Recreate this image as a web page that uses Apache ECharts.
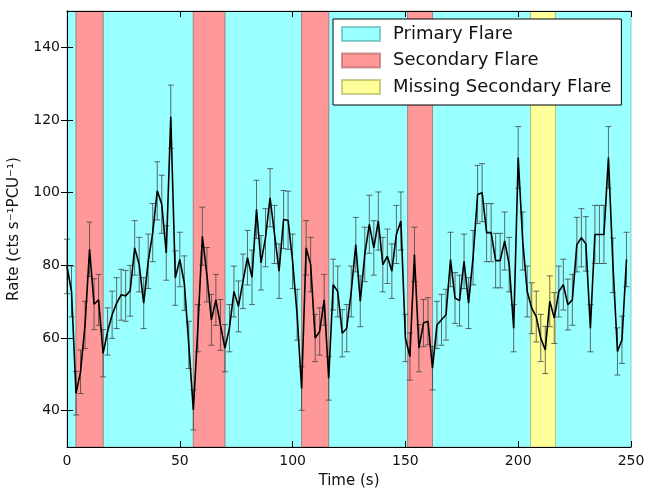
<!DOCTYPE html>
<html>
<head>
<meta charset="utf-8">
<script src="https://cdn.jsdelivr.net/npm/echarts@6/dist/echarts.min.js"></script>
<style>
  html, body { margin: 0; padding: 0; background: #fff; }
  #main { width: 646px; height: 489px; }
</style>
</head>
<body>
<div id="main"></div>
<script>
var times = [0, 2, 4, 6, 8, 10, 12, 14, 16, 18, 20, 22, 24, 26, 28, 30, 32, 34, 36, 38,
  40, 42, 44, 46, 48, 50, 52, 54, 56, 58, 60, 62, 64, 66, 68, 70, 72, 74, 76, 78,
  80, 82, 84, 86, 88, 90, 92, 94, 96, 98, 100, 102, 104, 106, 108, 110, 112, 114, 116, 118,
  120, 122, 124, 126, 128, 130, 132, 134, 136, 138, 140, 142, 144, 146, 148, 150, 152, 154, 156, 158,
  160, 162, 164, 166, 168, 170, 172, 174, 176, 178, 180, 182, 184, 186, 188, 190, 192, 194, 196, 198,
  200, 202, 204, 206, 208, 210, 212, 214, 216, 218, 220, 222, 224, 226, 228, 230, 232, 234, 236, 238,
  240, 242, 244, 246, 248];

var rates = [79.7, 72.8, 44.8, 50.7, 63.6, 84.4, 69.3, 70.5, 55.8, 61.8, 66.4, 69.6, 71.9, 71.6, 73.0, 84.8, 80.2, 69.6, 81.1, 89.0,
  100.5, 96.8, 83.4, 120.9, 76.5, 81.6, 75.1, 58.1, 40.2, 62.7, 88.0, 77.4, 65.0, 70.5, 63.6, 57.2, 62.7, 72.8, 68.7, 75.6,
  82.1, 76.7, 95.4, 80.7, 87.6, 98.6, 88.5, 78.4, 92.6, 92.4, 81.1, 66.4, 46.1, 84.8, 80.2, 60.0, 61.8, 70.5, 48.9, 74.7,
  72.8, 61.3, 62.7, 72.8, 85.7, 70.1, 83.0, 91.3, 84.8, 92.2, 80.2, 82.5, 78.4, 88.5, 92.2, 60.0, 54.9, 83.0, 57.2, 64.1,
  64.6, 51.7, 63.6, 65.0, 66.4, 81.6, 71.0, 70.3, 81.1, 69.6, 82.1, 99.5, 100.0, 89.0, 89.0, 81.3, 81.3, 86.7, 80.2, 62.7,
  109.7, 86.7, 72.8, 68.2, 65.9, 60.0, 56.7, 70.1, 65.5, 72.8, 74.7, 69.2, 70.5, 85.7, 87.6, 85.9, 62.7, 88.5, 88.5, 88.5,
  109.7, 80.0, 56.3, 59.5, 81.6];

var errors = [7.5, 7, 6, 6, 6.5, 7.5, 7, 7, 6.5, 6.5, 6.5, 7, 7, 7, 7, 7.5, 7.5, 7, 7.5, 8,
  8, 8, 7.5, 8.7, 7.5, 7.5, 7.5, 6.5, 5.5, 6.5, 8, 7.5, 7, 7, 7, 6.5, 6.5, 7, 7, 7.5,
  7.5, 7.5, 8, 7.5, 8, 8, 8, 7.5, 8, 8, 7.5, 7, 6, 7.5, 7.5, 6.5, 6.5, 7, 6, 7,
  7, 6.5, 6.5, 7, 7.5, 7, 7.5, 8, 7.5, 8, 7.5, 7.5, 7.5, 8, 8, 6.5, 6.5, 7.5, 6.5, 6.5,
  6.5, 6, 6.5, 7, 7, 7.5, 7, 7, 7.5, 7, 7.5, 8, 8, 8, 8, 7.5, 7.5, 8, 7.5, 6.5,
  8.5, 8, 7, 7, 7, 6.5, 6.5, 7, 7, 7, 7, 7, 7, 7.5, 8, 7.5, 6.5, 8, 8, 8,
  8.5, 7.5, 6.5, 6.5, 7.5];

// shaded intervals [start, end] in seconds
var primaryBands = [[0, 4], [16, 56], [70, 104], [116, 151], [162, 205.5], [216.5, 250]];
var secondaryBands = [[4, 16], [56, 70], [104, 116], [151, 162]];
var missingBands = [[205.5, 216.5]];

var yTicks = [40, 60, 80, 100, 120, 140];

var font = 'DejaVu Sans';

function bandSeries(name, bands, color, edge) {
  return {
    name: name,
    type: 'line',
    data: [],
    z: 1,
    itemStyle: { color: color, borderColor: edge, borderWidth: 1 },
    lineStyle: { color: color },
    markArea: {
      silent: true,
      itemStyle: { color: color, borderColor: edge, borderWidth: 1 },
      data: bands.map(function (b) { return [{ xAxis: b[0] }, { xAxis: b[1] }]; })
    }
  };
}

var lineData = times.map(function (t, i) { return [t, rates[i]]; });
var errData = times.map(function (t, i) { return [t, rates[i], errors[i]]; });

var chart = echarts.init(document.getElementById('main'));

var axisCommon = {
  axisLine: { show: true, lineStyle: { color: '#000', width: 1 } },
  axisTick: { show: true, inside: true, length: 6, lineStyle: { color: '#000' } },
  splitLine: { show: false },
  z: 10
};

var option = {
  animation: false,
  backgroundColor: '#fff',
  textStyle: { fontFamily: font },
  grid: { left: 67, right: 15, top: 11, bottom: 42, outerBoundsMode: 'none', containLabel: false },
  legend: {
    orient: 'vertical',
    left: 333,
    top: 19,
    icon: 'rect',
    itemWidth: 38,
    itemHeight: 14,
    itemGap: 8.5,
    padding: [6, 10, 9, 8],
    backgroundColor: '#fff',
    borderColor: '#000',
    borderWidth: 1,
    borderRadius: 0,
    z: 20,
    textStyle: { fontFamily: font, fontSize: 18, color: '#111', padding: [0, 0, 0, 8], lineHeight: 18 },
    data: ['Primary Flare', 'Secondary Flare', 'Missing Secondary Flare']
  },
  xAxis: [
    Object.assign({}, axisCommon, {
      type: 'value', min: 0, max: 250, interval: 50,
      name: 'Time (s)', nameLocation: 'middle', nameGap: 27,
      nameTextStyle: { fontFamily: font, fontSize: 15, color: '#111' },
      axisLabel: { fontFamily: font, fontSize: 14, color: '#111', margin: 7 }
    }),
    Object.assign({}, axisCommon, {
      type: 'value', min: 0, max: 250, interval: 50, position: 'top',
      axisLabel: { show: false }
    })
  ],
  yAxis: [
    Object.assign({}, axisCommon, {
      type: 'value', min: 30, max: 150,
      name: 'Rate (cts s\u207B\u00B9PCU\u207B\u00B9)', nameLocation: 'middle', nameGap: 45,
      nameTextStyle: { fontFamily: font, fontSize: 15, color: '#111' },
      axisTick: { show: true, inside: true, length: 6, lineStyle: { color: '#000' }, customValues: yTicks },
      axisLabel: { fontFamily: font, fontSize: 14, color: '#111', margin: 7, customValues: yTicks }
    }),
    Object.assign({}, axisCommon, {
      type: 'value', min: 30, max: 150, position: 'right',
      axisTick: { show: true, inside: true, length: 6, lineStyle: { color: '#000' }, customValues: yTicks },
      axisLabel: { show: false }
    })
  ],
  series: [
    bandSeries('Primary Flare', primaryBands, '#99ffff', 'rgba(80,170,170,0.6)'),
    bandSeries('Secondary Flare', secondaryBands, '#ff9999', 'rgba(170,90,90,0.6)'),
    bandSeries('Missing Secondary Flare', missingBands, '#ffff99', 'rgba(170,170,80,0.6)'),
    {
      type: 'custom',
      z: 3,
      silent: true,
      data: errData,
      encode: { x: 0, y: 1 },
      renderItem: function (params, api) {
        var x = api.value(0), y = api.value(1), e = api.value(2);
        var top = api.coord([x, y + e]);
        var bot = api.coord([x, y - e]);
        var hw = 3;
        var st = { stroke: 'rgba(60,60,60,0.75)', lineWidth: 1 };
        return {
          type: 'group',
          children: [
            { type: 'line', shape: { x1: top[0], y1: top[1], x2: bot[0], y2: bot[1] }, style: st },
            { type: 'line', shape: { x1: top[0] - hw, y1: top[1], x2: top[0] + hw, y2: top[1] }, style: st },
            { type: 'line', shape: { x1: bot[0] - hw, y1: bot[1], x2: bot[0] + hw, y2: bot[1] }, style: st }
          ]
        };
      }
    },
    {
      type: 'line',
      z: 4,
      data: lineData,
      showSymbol: false,
      symbol: 'none',
      lineStyle: { color: '#000', width: 1.6 }
    }
  ]
};

chart.setOption(option);
</script>
</body>
</html>
